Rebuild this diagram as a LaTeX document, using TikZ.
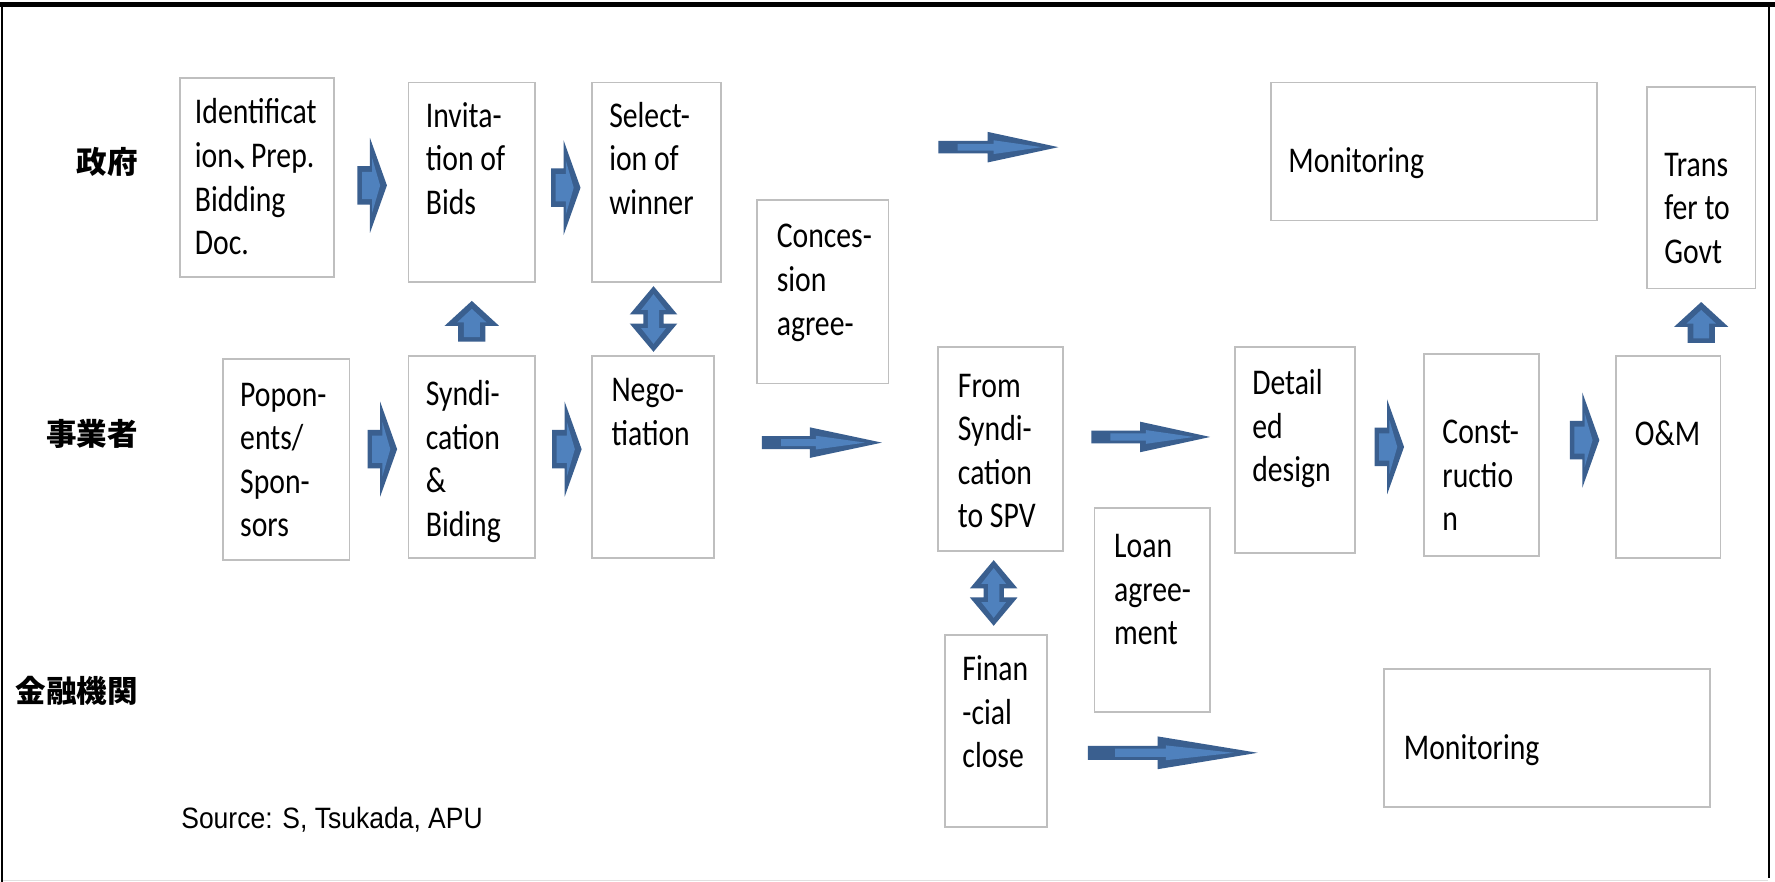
\documentclass[tikz,border=0pt]{standalone}
\usepackage{fontspec}
\usetikzlibrary{calc}
\setmainfont{Carlito}
\newfontfamily\boxfont{Carlito}[FakeStretch=0.82]
\newfontfamily\srcfont{Liberation Sans}[FakeStretch=0.9]
\newfontfamily\cjkfont{Noto Sans CJK JP}
\definecolor{arrfill}{HTML}{4F81BD}
\definecolor{arrline}{HTML}{3A5F8F}
\definecolor{boxline}{HTML}{BFBFBF}
\newcommand\bx[5]{\node[box, minimum width={#4-#2}, minimum height={#5-#3}] (#1) at (#2,#3) {};}
% thin arrow: #1 from, #2 to, #3 shaft half height, #4 head half height, #5 head start fraction
\newcommand\thinarr[5]{%
  \fill[arrline] ($(#1)+(0,-#3)$) -- ($(#1)!#5!(#2)+(0,-#3)$) -- ($(#1)!#5!(#2)+(0,-#4)$) -- (#2)
    -- ($(#1)!#5!(#2)+(0,#4)$) -- ($(#1)!#5!(#2)+(0,#3)$) -- ($(#1)+(0,#3)$) -- cycle;
  \fill[arrfill] ($(#1)!0.16!(#2)+(0,-#3+2.5)$) -- ($(#1)!#5+0.05!(#2)+(0,-#3+2.5)$)
    -- ($(#1)!#5+0.05!(#2)+(0,-#4*0.45)$) -- ($(#1)!0.86!(#2)$) -- ($(#1)!#5+0.05!(#2)+(0,#4*0.45)$)
    -- ($(#1)!#5+0.05!(#2)+(0,#3-2.5)$) -- ($(#1)!0.16!(#2)+(0,#3-2.5)$) -- cycle;}
\begin{document}
\begin{tikzpicture}[x=1pt,y=-1pt,
  box/.style={draw=boxline, line width=1.6pt, fill=white, anchor=north west, inner sep=0pt},
  txt/.style={anchor=north west, inner sep=0pt, align=left,
    font=\boxfont\fontsize{32}{38.5}\selectfont, execute at begin node=\strut},
  jp/.style={anchor=east, inner sep=0pt, font=\cjkfont\bfseries\fontsize{27}{31}\selectfont},
  src/.style={anchor=west, inner sep=0pt, font=\srcfont\fontsize{26}{30}\selectfont},
  fatR/.pic={
    \fill[arrline] (-13,-17) -- (-2,-17) -- (-2,-42) -- (13,0) -- (-2,42) -- (-2,17) -- (-13,17) -- cycle;
    \fill[arrfill] (-9,-12) -- (0,-12) -- (0,-24) -- (7,0) -- (0,24) -- (0,12) -- (-9,12) -- cycle;},
  fatU/.pic={
    \fill[arrline] (0,-18) -- (24,4) -- (12,4) -- (12,18) -- (-12,18) -- (-12,4) -- (-24,4) -- cycle;
    \fill[arrfill] (0,-11) -- (13,1) -- (7,1) -- (7,14) -- (-7,14) -- (-7,1) -- (-13,1) -- cycle;},
  fatD/.pic={
    \fill[arrline] (0,-29) -- (21,-4) -- (9,-4) -- (9,4) -- (21,4) -- (0,29) -- (-21,4) -- (-9,4) -- (-9,-4) -- (-21,-4) -- cycle;
    \fill[arrfill] (0,-22) -- (11,-8) -- (5,-8) -- (5,8) -- (11,8) -- (0,22) -- (-11,8) -- (-5,8) -- (-5,-8) -- (-11,-8) -- cycle;},
]
\useasboundingbox (0,0) rectangle (1568,779);
\fill[white] (0,0) rectangle (1568,779);
% frame
\draw[line width=4pt] (0,4) -- (1568,4);
\draw[line width=2pt] (2,4) -- (2,779);
\draw[line width=2pt] (1563,4) -- (1563,776);
\draw[black!12, line width=1pt] (3,777.5) -- (1562,777.5);

% lane labels
\node[jp] (gov) at (122,143) {政府};
\node[jp] (biz) at (122,383) {事業者};
\node[jp] (fin) at (122,610) {金融機関};

% boxes
\bx{ident}{158}{68}{294}{244}
\bx{invit}{360}{72}{472}{248}
\bx{select}{522}{72}{636}{248}
\bx{conces}{668}{176}{784}{338}
\bx{montop}{1122}{72}{1410}{194}
\bx{transfer}{1454}{76}{1550}{254}
\bx{popon}{196}{316}{308}{494}
\bx{syndi}{360}{314}{472}{492}
\bx{nego}{522}{314}{630}{492}
\bx{fromsyn}{828}{306}{938}{486}
\bx{detail}{1090}{306}{1196}{488}
\bx{constr}{1257}{312}{1359}{490}
\bx{om}{1427}{314}{1519}{492}
\bx{loan}{966}{448}{1068}{628}
\bx{finclose}{834}{560}{924}{730}
\bx{monbot}{1222}{590}{1510}{712}

% texts
\node[txt] (identT) at ($(ident.north west)+(14,19)$) {Identificat\\ion{\cjkfont ､}Prep.\\Bidding\\Doc.};
\node[txt] (invitT) at ($(invit.north west)+(16,18)$) {Invita-\\tion of\\Bids};
\node[txt] (selectT) at ($(select.north west)+(16,18)$) {Select-\\ion of\\winner};
\node[txt] (concesT) at ($(conces.north west)+(18,22)$) {Conces-\\sion\\agree-};
\node[txt] (montopT) at ($(montop.north west)+(16,53)$) {Monitoring};
\node[txt] (transferT) at ($(transfer.north west)+(16,59)$) {Trans\\fer to\\Govt};
\node[txt] (poponT) at ($(popon.north west)+(16,22)$) {Popon-\\ents/\\Spon-\\sors};
\node[txt] (syndiT) at ($(syndi.north west)+(16,22)$) {Syndi-\\cation\\\&\\Biding};
\node[txt] (negoT) at ($(nego.north west)+(18,20)$) {Nego-\\tiation};
\node[txt] (fromsynT) at ($(fromsyn.north west)+(18,24)$) {From\\Syndi-\\cation\\to SPV};
\node[txt] (detailT) at ($(detail.north west)+(16,20)$) {Detail\\ed\\design};
\node[txt] (constrT) at ($(constr.north west)+(17,59)$) {Const-\\ructio\\n};
\node[txt] (omT) at ($(om.north west)+(17,52)$) {O\&M};
\node[txt] (loanT) at ($(loan.north west)+(18,24)$) {Loan\\agree-\\ment};
\node[txt] (fincloseT) at ($(finclose.north west)+(16,19)$) {Finan\\-cial\\close};
\node[txt] (monbotT) at ($(monbot.north west)+(18,54)$) {Monitoring};

% fat block arrows between boxes
\path ($(ident.east)!0.5!(invit.west)+(1,5)$) pic {fatR};
\path ($(invit.east)!0.5!(select.west)+(2,5)$) pic {fatR};
\path ($(popon.east)!0.5!(syndi.west)+(3,-8)$) pic {fatR};
\path ($(syndi.east)!0.5!(nego.west)+(3,-7)$) pic {fatR};
\path ($(detail.east)!0.5!(constr.west)+(0,-5)$) pic {fatR};
\path ($(constr.east)!0.5!(om.west)+(6,-14)$) pic {fatR};
\path ($(syndi.north)!0.5!(invit.south)+(0,2)$) pic {fatU};
\path ($(transfer.south)!0.5!(transfer.south|-om.north)$) pic {fatU};
\path ($(select.south)!0.5!(nego.north)+(-1,0)$) pic {fatD};
\path ($(fromsyn.south)!0.5!(finclose.north)+(-4,0)$) pic {fatD};

% thin long arrows
\coordinate (t1s) at (829,130); \coordinate (t1e) at (935,130);
\coordinate (t2s) at (673,391); \coordinate (t2e) at (779,391);
\coordinate (t3s) at (964,386); \coordinate (t3e) at (1069,386);
\coordinate (t4s) at (961,665); \coordinate (t4e) at (1111,665);
\thinarr{t1s}{t1e}{5.5}{13.5}{0.41}
\thinarr{t2s}{t2e}{5.7}{13.5}{0.40}
\thinarr{t3s}{t3e}{5.7}{13.5}{0.41}
\thinarr{t4s}{t4e}{6.2}{14.5}{0.41}

% source
\node[src] (source) at (160,724) {Source: S, Tsukada, APU};
\end{tikzpicture}
\end{document}
